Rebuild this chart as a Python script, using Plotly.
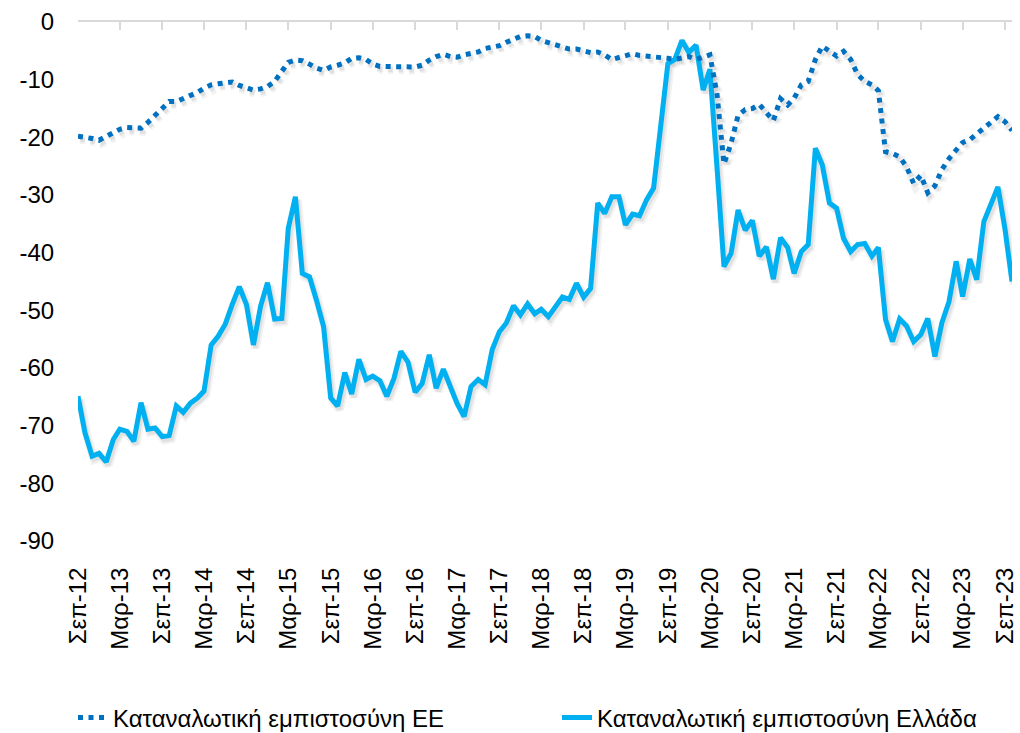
import plotly.graph_objects as go
import pandas as pd

# Monthly categories: Sep-2012 .. Oct-2023
months = pd.date_range("2012-09-01", "2023-10-01", freq="MS").strftime("%Y-%m-%d").tolist()

tick_dates = months[::6]
tick_labels = ["Σεπ-12", "Μαρ-13", "Σεπ-13", "Μαρ-14", "Σεπ-14", "Μαρ-15", "Σεπ-15",
               "Μαρ-16", "Σεπ-16", "Μαρ-17", "Σεπ-17", "Μαρ-18", "Σεπ-18", "Μαρ-19",
               "Σεπ-19", "Μαρ-20", "Σεπ-20", "Μαρ-21", "Σεπ-21", "Μαρ-22", "Σεπ-22",
               "Μαρ-23", "Σεπ-23"]

y_tick_values = [0, -10, -20, -30, -40, -50, -60, -70, -80, -90]
y_tick_labels = ["0", "-10", "-20", "-30", "-40", "-50", "-60", "-70", "-80", "-90"]

eu_confidence = [
    -19.8, -19.9, -20.2, -20.5, -19.9, -19.1, -18.6, -18.3, -18.3, -18.4,
    -17.4, -16.2, -14.8, -13.8, -13.8, -13.3, -12.8, -12.2, -11.5, -10.9,
    -10.7, -10.5, -10.4, -11.0, -11.5, -11.8, -11.6, -11.2, -10.3, -8.6,
    -7.0, -6.6, -6.7, -7.3, -8.0, -8.4, -7.8, -7.5, -7.1, -6.3,
    -6.2, -6.5, -7.3, -7.7, -7.7, -7.6, -7.7, -7.8, -7.8, -7.5,
    -6.6, -6.0, -5.6, -6.0, -6.1, -5.7, -5.5, -5.2, -4.6, -4.3,
    -4.1, -3.5, -3.0, -2.5, -2.4, -2.5, -3.2, -3.6, -4.0, -4.4,
    -4.7, -4.7, -4.9, -5.3, -5.2, -5.7, -6.5, -6.1, -5.7, -5.5,
    -5.8, -5.9, -5.9, -6.1, -6.3, -6.5, -6.2, -6.0, -6.5, -6.2,
    -5.7, -12.6, -24.6, -21.0, -16.2, -15.2, -15.0, -14.3, -15.6, -17.1,
    -13.3, -14.4, -13.2, -10.9, -10.3, -6.5, -4.2, -5.1, -5.9, -5.1,
    -6.5, -9.1, -10.3, -10.9, -11.9, -22.5, -22.8, -23.4, -25.1, -28.0,
    -26.6, -29.6, -28.4, -25.6, -23.7, -22.2, -20.9, -20.4, -19.4, -18.4,
    -17.5, -16.4, -17.3, -18.8,
]

gr_confidence = [
    -64.9, -71.2, -75.3, -74.8, -76.3, -72.4, -70.6, -71.0, -72.7, -66.0,
    -70.6, -70.4, -71.9, -71.7, -66.6, -67.7, -66.1, -65.2, -64.0, -56.0,
    -54.5, -52.4, -49.0, -45.9, -49.0, -56.0, -49.3, -45.2, -51.5, -51.4,
    -35.8, -30.3, -43.6, -44.2, -48.2, -52.8, -65.2, -66.6, -60.8, -64.5,
    -58.5, -62.0, -61.4, -62.2, -64.9, -61.8, -57.1, -59.0, -64.2, -62.7,
    -57.7, -63.5, -60.2, -63.2, -66.1, -68.4, -63.2, -62.0, -62.9, -56.8,
    -53.7, -52.2, -49.2, -50.8, -48.9, -50.6, -49.8, -51.1, -49.3, -47.7,
    -48.1, -45.3, -47.7, -46.2, -31.4, -33.2, -30.3, -30.3, -35.2, -33.3,
    -33.6, -30.8, -28.8, -18.0, -7.2, -6.5, -3.2, -5.3, -4.0, -11.8,
    -8.2, -25.3, -42.4, -40.1, -32.6, -36.1, -34.4, -40.6, -39.0, -44.6,
    -37.4, -39.1, -43.6, -39.8, -38.6, -21.9, -24.8, -31.4, -32.3, -37.5,
    -39.8, -38.6, -38.4, -40.6, -39.1, -51.6, -55.4, -51.5, -52.7, -55.4,
    -54.2, -51.4, -58.0, -52.2, -48.5, -41.5, -47.6, -41.1, -44.7, -34.6,
    -31.7, -28.6, -36.0, -45.0,
]

FONT = "Liberation Sans"
FS = 24
EU_DASH = "5px,5.5px"

xrange = [months[0], months[-1]]
# soft drop shadow: same data drawn on axes whose ranges are nudged (≈2px right, 3px down)
shift = pd.Timedelta(days=9)
xrange_shadow = [(pd.Timestamp(months[0]) - shift).strftime("%Y-%m-%d %H:%M"),
                 (pd.Timestamp(months[-1]) - shift).strftime("%Y-%m-%d %H:%M")]
yrange = [-90, 0]
yrange_shadow = [-90 + 0.55, 0 + 0.55]

fig = go.Figure()
# shadows (base axes x / y)
for vals, dash in ((gr_confidence, None), (eu_confidence, EU_DASH)):
    fig.add_trace(go.Scatter(
        x=months, y=vals, mode="lines", xaxis="x", yaxis="y",
        showlegend=False, hoverinfo="skip",
        line=dict(color="rgba(0,0,0,0.05)", width=9, dash=dash),
    ))
    fig.add_trace(go.Scatter(
        x=months, y=vals, mode="lines", xaxis="x", yaxis="y",
        showlegend=False, hoverinfo="skip",
        line=dict(color="rgba(0,0,0,0.07)", width=5, dash=dash),
    ))

fig.add_trace(go.Scatter(
    x=months, y=eu_confidence, name="Καταναλωτική εμπιστοσύνη ΕΕ",
    mode="lines", xaxis="x3", yaxis="y2", legend="legend",
    line=dict(color="#0070C0", width=5, dash=EU_DASH),
))
fig.add_trace(go.Scatter(
    x=months, y=gr_confidence, name="Καταναλωτική εμπιστοσύνη Ελλάδα",
    mode="lines", xaxis="x2", yaxis="y2", legend="legend2",
    line=dict(color="#00B0F0", width=5),
))

legend_common = dict(
    orientation="h", xref="container", yref="container",
    y=1 - 718 / 733, xanchor="left", yanchor="middle",
    font=dict(family=FONT, size=FS, color="#000000"),
    bgcolor="rgba(0,0,0,0)",
)
hidden = dict(visible=False, showgrid=False, zeroline=False, automargin=False)
fig.update_layout(
    width=1020, height=733,
    margin=dict(l=78, r=8, t=22, b=192),
    paper_bgcolor="white", plot_bgcolor="white",
    font=dict(family=FONT, size=FS, color="#000000"),
    xaxis=dict(type="date", range=xrange_shadow, **hidden),
    yaxis=dict(range=yrange_shadow, **hidden),
    xaxis2=dict(
        type="date", range=xrange, overlaying="x", side="bottom", anchor="y2",
        tickvals=tick_dates, ticktext=tick_labels,
        tickangle=-90, showgrid=False, zeroline=False, showline=False,
        ticks="outside", ticklen=16, tickcolor="rgba(0,0,0,0)", automargin=False,
        tickfont=dict(family=FONT, size=FS, color="#000000"),
    ),
    xaxis3=dict(
        type="date", range=xrange, overlaying="x", side="top", anchor="y2",
        tickvals=tick_dates, showticklabels=False, showgrid=False, zeroline=False,
        showline=True, linecolor="#D9D9D9", linewidth=2, automargin=False,
        ticks="inside", ticklen=8, tickwidth=2, tickcolor="#D9D9D9",
    ),
    yaxis2=dict(
        range=yrange, overlaying="y", side="left", anchor="x2",
        tickvals=y_tick_values, ticktext=y_tick_labels,
        showgrid=False, zeroline=False, automargin=False,
        showline=False, ticks="outside", ticklen=18, tickcolor="rgba(0,0,0,0)",
        tickfont=dict(family=FONT, size=FS, color="#000000"),
    ),
    legend=dict(x=73 / 1020, **legend_common),
    legend2=dict(x=557 / 1020, **legend_common),
    showlegend=True,
)

fig.write_html(
    "out.html",
    config={"displayModeBar": False},
    post_script="document.body.style.margin='0px';document.body.style.overflow='hidden';",
)
